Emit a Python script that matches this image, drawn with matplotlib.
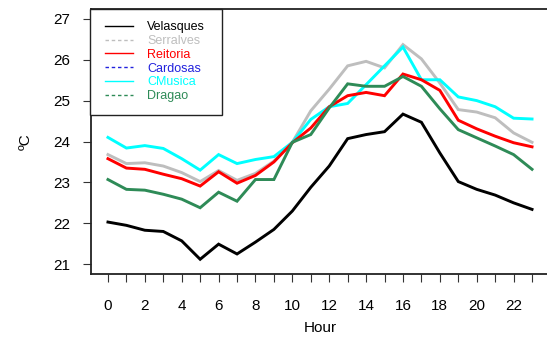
import matplotlib
matplotlib.use("Agg")
import matplotlib.pyplot as plt
from matplotlib.lines import Line2D
from matplotlib.patches import Rectangle

plt.rcParams['font.family'] = ['Liberation Sans', 'DejaVu Sans']

hours = list(range(24))
velasques = [22.03, 21.95, 21.83, 21.80, 21.57, 21.12, 21.49, 21.25, 21.54, 21.85, 22.30, 22.88,
             23.40, 24.07, 24.17, 24.24, 24.67, 24.47, 23.72, 23.02, 22.83, 22.69, 22.50, 22.34]
serralves = [23.68, 23.46, 23.48, 23.40, 23.24, 23.02, 23.29, 23.05, 23.22, 23.52, 23.98, 24.75,
             25.28, 25.85, 25.96, 25.80, 26.37, 26.02, 25.43, 24.78, 24.72, 24.58, 24.21, 23.98]
reitoria = [23.58, 23.35, 23.32, 23.20, 23.09, 22.91, 23.26, 22.98, 23.17, 23.50, 23.97, 24.33,
            24.85, 25.12, 25.20, 25.12, 25.65, 25.51, 25.25, 24.52, 24.31, 24.13, 23.97, 23.87]
cmusica = [24.10, 23.84, 23.90, 23.83, 23.58, 23.30, 23.68, 23.46, 23.56, 23.63, 23.98, 24.54,
           24.85, 24.93, 25.39, 25.85, 26.31, 25.51, 25.51, 25.09, 25.00, 24.85, 24.57, 24.55]
dragao = [23.07, 22.83, 22.81, 22.71, 22.59, 22.38, 22.76, 22.54, 23.07, 23.07, 23.98, 24.17,
          24.82, 25.41, 25.35, 25.35, 25.59, 25.35, 24.80, 24.29, 24.09, 23.89, 23.68, 23.32]

names = ["Velasques", "Serralves", "Reitoria", "Cardosas", "CMusica", "Dragao"]
colors = ["black", "#BEBEBE", "red", "#2222DD", "cyan", "seagreen"]
legend_styles = ["-", "--", "-", "--", "-", "--"]
series = {"Velasques": velasques, "Serralves": serralves, "Reitoria": reitoria,
          "CMusica": cmusica, "Dragao": dragao}
yticks = [21, 22, 23, 24, 25, 26, 27]
xticks_major = list(range(0, 24, 2))

W, H = 547, 341
fig = plt.figure(figsize=(W / 100, H / 100), dpi=100)
left = 91 / W
bottom = (H - 274) / H
ax = fig.add_axes([left, bottom, 458 / W, 265 / H])

draw_order = ["Serralves", "CMusica", "Reitoria", "Dragao", "Velasques"]
for name in draw_order:
    c = colors[names.index(name)]
    ax.plot(hours, series[name], color=c, lw=2.1, solid_joinstyle='miter')

ax.set_xlim(-0.92, 23.92)
ax.set_ylim(20.76, 27.24)
ax.set_yticks(yticks)
ax.set_yticklabels([str(v) for v in yticks])
ax.set_xticks(hours, minor=True)
ax.set_xticks(xticks_major)
ax.set_xticklabels([str(v) for v in xticks_major])
ax.tick_params(axis='both', which='both', direction='out', length=6, width=0.8,
               labelsize=11, color='#333333')
ax.tick_params(axis='x', which='both', pad=12)
ax.tick_params(axis='y', pad=9)
for s in ax.spines.values():
    s.set_linewidth(1.3)
    s.set_color('#222222')

ax.set_xlabel("Hour", fontsize=11, labelpad=6)
ax.set_ylabel("ºC", fontsize=11, labelpad=15)

# legend drawn in figure pixel coordinates
def fx(px):
    return px / W

def fy(py):
    return (H - py) / H

fig.patches.append(Rectangle((fx(90), fy(115)), fx(222) - fx(90), fy(9) - fy(115),
                             transform=fig.transFigure, facecolor='white',
                             edgecolor='#222222', lw=1.0, zorder=5))
row0, dy = 25.7, 13.8
for i, (n, c, ls) in enumerate(zip(names, colors, legend_styles)):
    yy = fy(row0 + i * dy)
    fig.lines.append(Line2D([fx(105), fx(133)], [yy, yy], transform=fig.transFigure,
                            color=c, lw=1.0, ls=ls, dashes=(2.5, 2) if ls == '--' else (None, None),
                            zorder=6))
    fig.text(fx(147), yy, n, color=c, fontsize=9, ha='left', va='center_baseline', zorder=6)

fig.savefig("out.png", dpi=100)
